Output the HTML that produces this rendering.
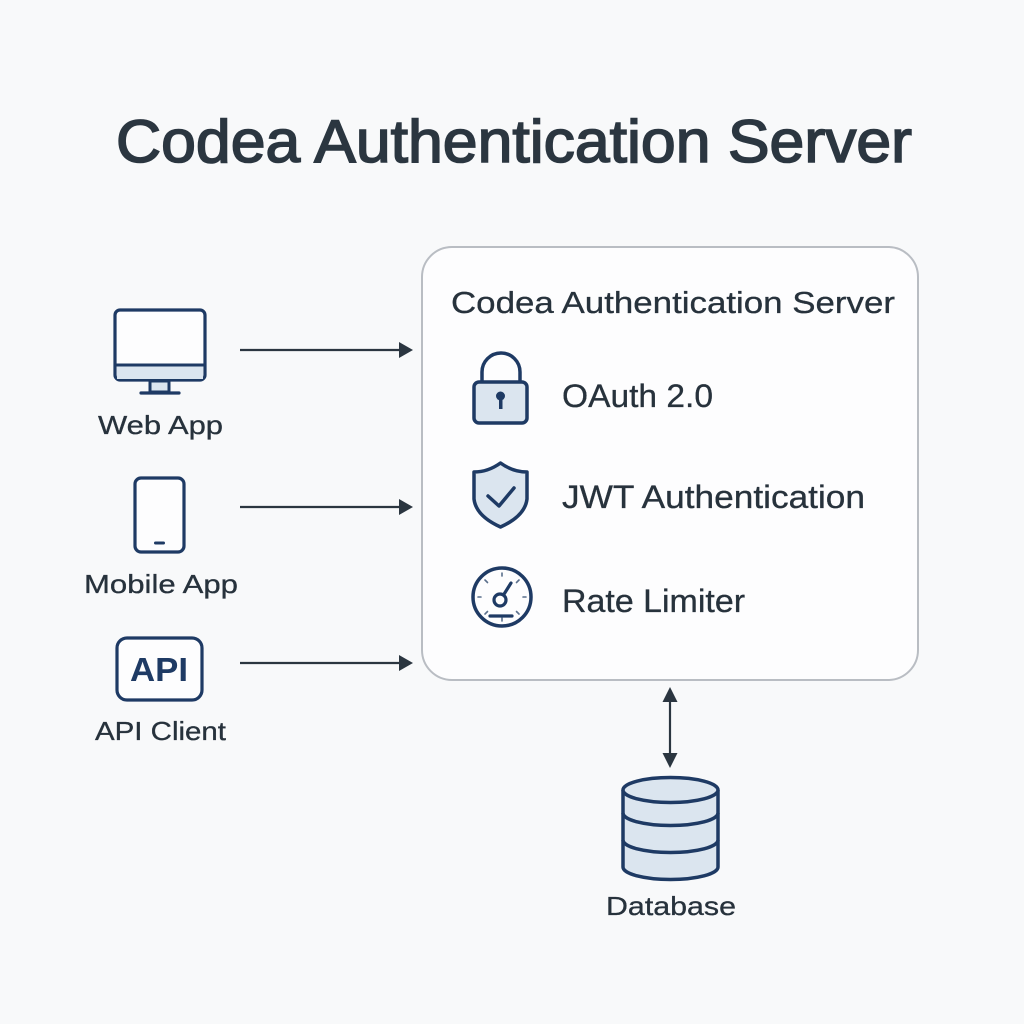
<!DOCTYPE html>
<html>
<head>
<meta charset="utf-8">
<style>
  html, body { margin: 0; padding: 0; background: #f8f9fa; }
  svg { display: block; }
  text { font-family: "Liberation Sans", Arial, sans-serif; fill: #27323c; }
</style>
</head>
<body>
<svg width="1024" height="1024" viewBox="0 0 1024 1024" xmlns="http://www.w3.org/2000/svg">
  <rect x="0" y="0" width="1024" height="1024" fill="#f8f9fa"/>

  <!-- Title -->
  <text x="116" y="162" font-size="60" textLength="796" lengthAdjust="spacingAndGlyphs" style="fill:#2b3640;stroke:#2b3640;stroke-width:1.6">Codea Authentication Server</text>

  <!-- Server box -->
  <rect x="422" y="247" width="496" height="433" rx="30" ry="30" fill="#fdfdfe" stroke="#b9bdc3" stroke-width="2"/>
  <text x="451" y="313" font-size="31" textLength="444" lengthAdjust="spacingAndGlyphs" style="stroke:#27323c;stroke-width:0.3">Codea Authentication Server</text>

  <!-- Lock icon -->
  <path d="M482,382 V372 A19,19 0 0 1 520,372 V382" fill="none" stroke="#1e3a64" stroke-width="3.5"/>
  <rect x="474" y="382" width="53" height="41" rx="5" fill="#dbe5ef" stroke="#1e3a64" stroke-width="3.5"/>
  <circle cx="500.5" cy="396" r="4.5" fill="#1e3a64"/>
  <rect x="499" y="397" width="3.5" height="12" fill="#1e3a64"/>
  <text x="562" y="407" font-size="32" textLength="151" lengthAdjust="spacingAndGlyphs" style="stroke:#27323c;stroke-width:0.3">OAuth 2.0</text>

  <!-- Shield icon -->
  <path d="M500.5,463 Q488,472 474,472 V499 Q476,516 500.5,527 Q525,516 527,499 V472 Q513,472 500.5,463 Z" fill="#dbe5ef" stroke="#1e3a64" stroke-width="3.5" stroke-linejoin="round"/>
  <path d="M488,496 L499,506 L514,488" fill="none" stroke="#1e3a64" stroke-width="3.5" stroke-linecap="round" stroke-linejoin="round"/>
  <text x="562" y="508" font-size="32" textLength="303" lengthAdjust="spacingAndGlyphs" style="stroke:#27323c;stroke-width:0.3">JWT Authentication</text>

  <!-- Gauge icon -->
  <circle cx="502" cy="597" r="29" fill="none" stroke="#1e3a64" stroke-width="3.5"/>
  <g stroke="#5a6f8c" stroke-width="1.6" stroke-linecap="round">
    <line x1="502" y1="573" x2="502" y2="576"/>
    <line x1="502" y1="618" x2="502" y2="621"/>
    <line x1="478" y1="597" x2="481" y2="597"/>
    <line x1="523" y1="597" x2="526" y2="597"/>
    <line x1="485" y1="580" x2="487.5" y2="582.5"/>
    <line x1="519" y1="580" x2="516.5" y2="582.5"/>
    <line x1="485" y1="614" x2="487.5" y2="611.5"/>
    <line x1="519" y1="614" x2="516.5" y2="611.5"/>
  </g>
  <circle cx="500" cy="600" r="6" fill="none" stroke="#1e3a64" stroke-width="3.2"/>
  <line x1="503.5" y1="595" x2="511" y2="583" stroke="#1e3a64" stroke-width="3.2" stroke-linecap="round"/>
  <line x1="490" y1="616" x2="512" y2="616" stroke="#1e3a64" stroke-width="3.2" stroke-linecap="round"/>
  <text x="562" y="612" font-size="32" textLength="183" lengthAdjust="spacingAndGlyphs" style="stroke:#27323c;stroke-width:0.3">Rate Limiter</text>

  <!-- Web App monitor -->
  <rect x="115" y="310" width="90" height="70" rx="5" fill="#fdfdfe" stroke="#1e3a64" stroke-width="3.2"/>
  <rect x="117" y="365" width="86" height="14" fill="#dbe5ef"/>
  <line x1="116" y1="365" x2="204" y2="365" stroke="#1e3a64" stroke-width="3"/>
  <rect x="150" y="381" width="19" height="11" fill="#dbe5ef" stroke="#1e3a64" stroke-width="3"/>
  <line x1="141" y1="393" x2="179" y2="393" stroke="#1e3a64" stroke-width="3.2" stroke-linecap="round"/>
  <text x="98" y="434" font-size="26" textLength="125" lengthAdjust="spacingAndGlyphs" style="stroke:#27323c;stroke-width:0.3">Web App</text>

  <!-- Mobile phone -->
  <rect x="135" y="478" width="49" height="74" rx="6" fill="#fdfdfe" stroke="#1e3a64" stroke-width="3.2"/>
  <line x1="155.5" y1="543" x2="163.5" y2="543" stroke="#1e3a64" stroke-width="3" stroke-linecap="round"/>
  <text x="84" y="593" font-size="26" textLength="154" lengthAdjust="spacingAndGlyphs" style="stroke:#27323c;stroke-width:0.3">Mobile App</text>

  <!-- API box -->
  <rect x="117" y="638" width="85" height="62" rx="10" fill="#fdfdfe" stroke="#1e3a64" stroke-width="3.2"/>
  <text x="130" y="681" font-size="33" font-weight="bold" textLength="58" lengthAdjust="spacingAndGlyphs" style="fill:#1e3a64">API</text>
  <text x="95" y="740" font-size="26" textLength="131" lengthAdjust="spacingAndGlyphs" style="stroke:#27323c;stroke-width:0.3">API Client</text>

  <!-- Arrows from clients -->
  <g stroke="#2b3640" stroke-width="2.2" fill="#2b3640">
    <line x1="240" y1="350" x2="402" y2="350"/>
    <line x1="240" y1="507" x2="402" y2="507"/>
    <line x1="240" y1="663" x2="402" y2="663"/>
  </g>
  <g fill="#2b3640">
    <path d="M399,342 L413,350 L399,358 Z"/>
    <path d="M399,499 L413,507 L399,515 Z"/>
    <path d="M399,655 L413,663 L399,671 Z"/>
  </g>

  <!-- Bidirectional arrow to DB -->
  <line x1="670" y1="700" x2="670" y2="756" stroke="#2b3640" stroke-width="2.2"/>
  <path d="M662.5,702 L670,687 L677.5,702 Z" fill="#2b3640"/>
  <path d="M662.5,753 L670,768 L677.5,753 Z" fill="#2b3640"/>

  <!-- Database -->
  <path d="M623,790 V867 A47.5,12.5 0 0 0 718,867 V790" fill="#dbe5ef" stroke="#1e3a64" stroke-width="3.5"/>
  <ellipse cx="670.5" cy="790" rx="47.5" ry="12.5" fill="#dbe5ef" stroke="#1e3a64" stroke-width="3.5"/>
  <path d="M623,813 A47.5,12.5 0 0 0 718,813" fill="none" stroke="#1e3a64" stroke-width="3.5"/>
  <path d="M623,840 A47.5,12.5 0 0 0 718,840" fill="none" stroke="#1e3a64" stroke-width="3.5"/>
  <text x="606" y="915" font-size="26" textLength="130" lengthAdjust="spacingAndGlyphs" style="stroke:#27323c;stroke-width:0.3">Database</text>
</svg>
</body>
</html>
